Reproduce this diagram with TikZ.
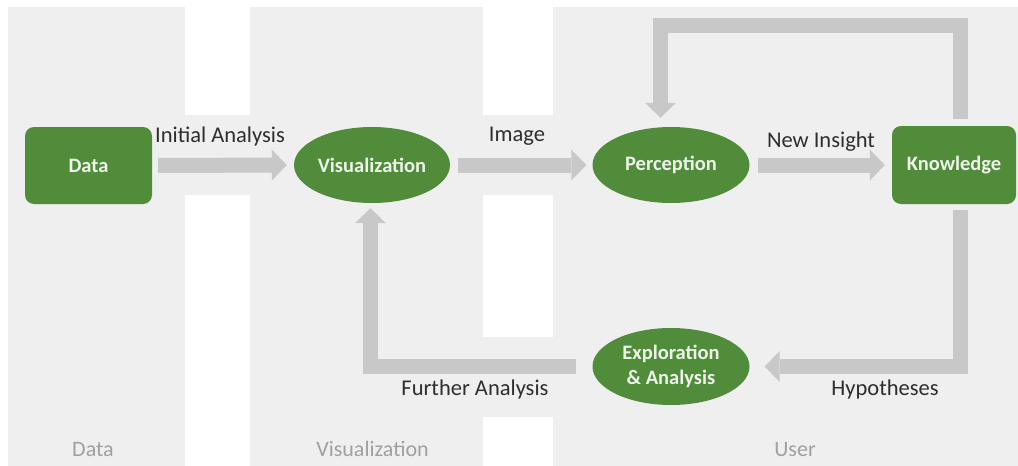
\documentclass[tikz,border=0pt]{standalone}
\usepackage{fontspec}
\setmainfont{Carlito}
\usetikzlibrary{arrows.meta,shapes.geometric}

\definecolor{panelgray}{HTML}{EFEFEF}
\definecolor{flowgray}{HTML}{C8C8C8}
\definecolor{leafgreen}{RGB}{80,140,58}
\definecolor{labeldark}{HTML}{2E2E2E}
\definecolor{panellabel}{HTML}{A0A0A0}
\definecolor{nodetext}{HTML}{EEF4EA}

\begin{document}
\begin{tikzpicture}[x=1pt,y=-1pt,
  box/.style={fill=leafgreen, rounded corners=9pt, inner sep=0pt,
    text=nodetext, font=\bfseries\fontsize{20.5}{24}\selectfont},
  oval/.style={ellipse, fill=leafgreen, inner sep=0pt, align=center,
    minimum width=156pt, minimum height=76pt,
    text=nodetext, font=\bfseries\fontsize{20.5}{25}\selectfont},
  flow/.style={draw=flowgray, line width=15pt, line join=miter, line cap=butt,
    -{Triangle[width=31pt,length=15pt,line width=0pt]}},
  edgelabel/.style={text=labeldark, anchor=base, inner sep=0pt,
    font=\fontsize{22.5}{26}\selectfont},
  lanelabel/.style={text=panellabel, anchor=base, inner sep=0pt,
    font=\fontsize{22}{26}\selectfont}
]
\useasboundingbox (0,0) rectangle (1018,466);

% swim lanes
\fill[panelgray] (8,7) rectangle (185,466);
\fill[panelgray] (250,7) rectangle (483,466);
\fill[panelgray] (553,7) rectangle (1018,466);
% bands where the flows cross the gaps
\fill[panelgray] (185,115) rectangle (250,195);
\fill[panelgray] (483,115) rectangle (553,195);
\fill[panelgray] (483,337) rectangle (553,417);

% lane titles
\node[lanelabel] (laneData) at (93,456) {Data};
\node[lanelabel] (laneVis) at (372.5,456) {Visualization};
\node[lanelabel] (laneUser) at (795,456) {User};

% stages
\node[box, minimum width=127pt, minimum height=77pt] (data) at (88.5,165.5) {Data};
\node[oval] (vis) at (372,165) {Visualization};
\node[oval, minimum width=157pt] (perc) at (671,165) {Perception};
\node[box, minimum width=124pt, minimum height=78pt] (know) at (954,165) {Knowledge};
\node[oval, minimum width=157pt, minimum height=77pt] (expl) at (671,366.5) {Exploration\\\& Analysis};

% loop corners
\coordinate (topR) at (960.5,25.5);
\coordinate (topL) at (660.5,25.5);
\coordinate (botR) at (960.5,366.5);
\coordinate (botL) at (370.5,366.5);

% flows
\draw[flow] ([xshift=6pt]data.east) -- ([xshift=-7pt]vis.west);
\draw[flow] ([xshift=8pt]vis.east) -- ([xshift=-6pt]perc.west);
\draw[flow] ([xshift=8pt]perc.east) -- ([xshift=-7pt]know.west);
\draw[flow] ([xshift=6.5pt,yshift=7pt]know.north) -- (topR) -- (topL)
  -- ([xshift=-10.5pt,yshift=9pt]perc.north);
\draw[flow] ([xshift=6.5pt,yshift=-6pt]know.south) -- (botR)
  -- ([xshift=15pt]expl.east);
\draw[flow] ([xshift=-16pt]expl.west) -- (botL)
  -- ([xshift=-1.5pt,yshift=-5pt]vis.south);

% flow labels
\node[edgelabel] (lblInit) at (220,142) {Initial Analysis};
\node[edgelabel] (lblImage) at (517,141) {Image};
\node[edgelabel] (lblInsight) at (821,147) {New Insight};
\node[edgelabel] (lblFurther) at (475,395) {Further Analysis};
\node[edgelabel] (lblHyp) at (885,395) {Hypotheses};
\end{tikzpicture}
\end{document}
